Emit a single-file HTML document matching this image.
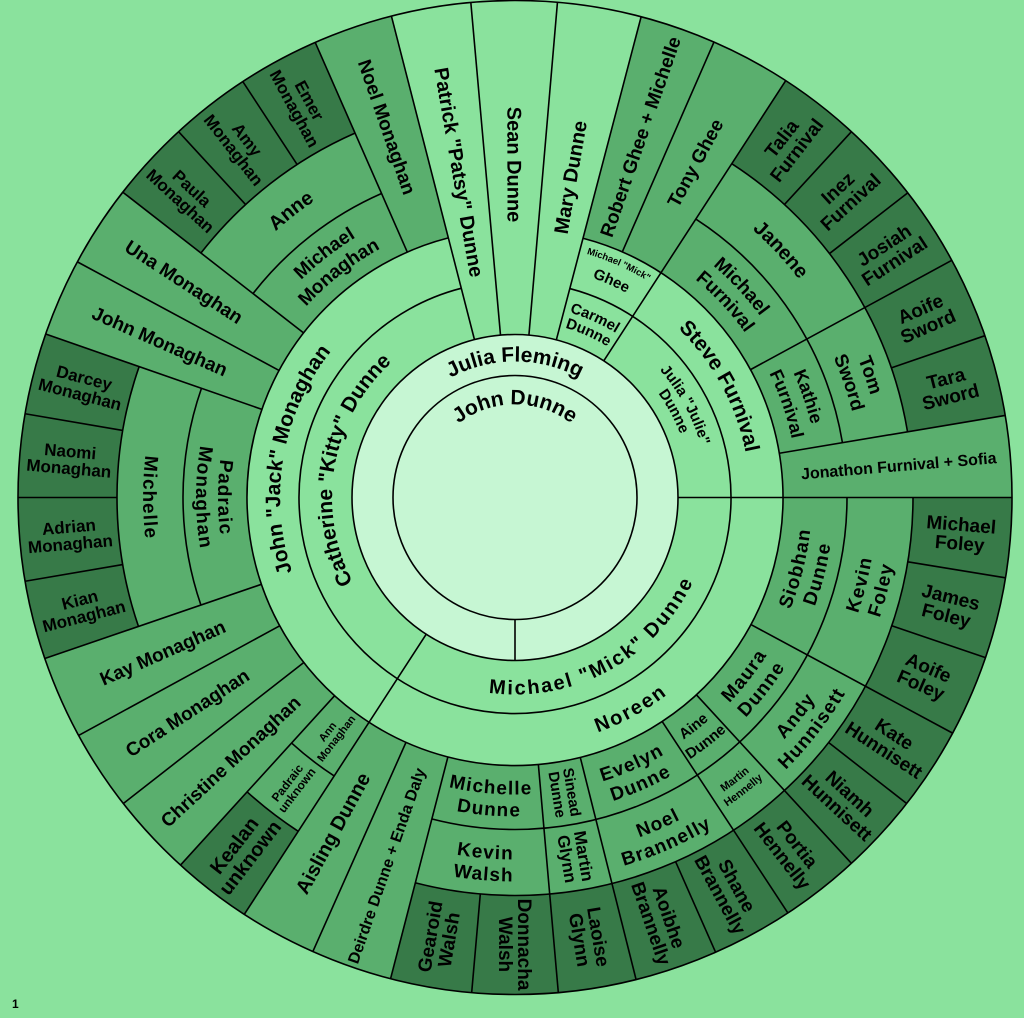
<!DOCTYPE html>
<html><head><meta charset="utf-8"><style>
html,body{margin:0;padding:0;background:#8ae29d;width:1024px;height:1018px;overflow:hidden;}
svg{display:block}
text{font-family:"Liberation Sans",Arial,sans-serif;font-weight:bold;fill:#000;}
.f circle{fill:none}
.o circle{fill:none;stroke:#000;stroke-width:1.6}
.o line{stroke:#000;stroke-width:1.6}
</style></head><body>
<svg width="1024" height="1018" viewBox="0 0 1024 1018" xmlns="http://www.w3.org/2000/svg" overflow="hidden">
<rect width="1024" height="1018" fill="#8ae29d"/>
<defs>
<path id="cw93" d="M-92.65,-8.11 A93,93 0 0 1 92.65,-8.11"/>
<path id="cw136" d="M-135.48,-11.85 A136,136 0 0 1 135.48,-11.85"/>
<path id="cw183" d="M-182.3,-15.95 A183,183 0 0 1 182.3,-15.95"/>
<path id="cw235" d="M-234.1,-20.48 A235,235 0 0 1 234.1,-20.48"/>
<path id="cw193" d="M-192.26,-16.82 A193,193 0 0 1 192.26,-16.82"/>
<path id="cw177" d="M-176.33,-15.43 A177,177 0 0 1 176.33,-15.43"/>
<path id="cw254" d="M-253.03,-22.14 A254,254 0 0 1 253.03,-22.14"/>
<path id="cw233" d="M-232.11,-20.31 A233,233 0 0 1 232.11,-20.31"/>
<path id="cw305" d="M-303.84,-26.58 A305,305 0 0 1 303.84,-26.58"/>
<path id="cw283" d="M-281.92,-24.67 A283,283 0 0 1 281.92,-24.67"/>
<path id="cw358" d="M-356.64,-31.2 A358,358 0 0 1 356.64,-31.2"/>
<path id="cw370" d="M-368.59,-32.25 A370,370 0 0 1 368.59,-32.25"/>
<path id="cw348" d="M-346.67,-30.33 A348,348 0 0 1 346.67,-30.33"/>
<path id="ccw197" d="M-196.25,17.17 A197,197 0 0 0 196.25,17.17"/>
<path id="ccw249" d="M-248.05,21.7 A249,249 0 0 0 248.05,21.7"/>
<path id="ccw372" d="M-370.58,32.42 A372,372 0 0 0 370.58,32.42"/>
<path id="ccw297" d="M-295.87,25.89 A297,297 0 0 0 295.87,25.89"/>
<path id="ccw319" d="M-317.78,27.8 A319,319 0 0 0 317.78,27.8"/>
<path id="ccw362" d="M-360.62,31.55 A362,362 0 0 0 360.62,31.55"/>
<path id="ccw384" d="M-382.54,33.47 A384,384 0 0 0 382.54,33.47"/>
<path id="ccw295" d="M-293.88,25.71 A295,295 0 0 0 293.88,25.71"/>
<path id="ccw315" d="M-313.8,27.46 A315,315 0 0 0 313.8,27.46"/>
<path id="ccw361" d="M-359.62,31.46 A361,361 0 0 0 359.62,31.46"/>
<path id="ccw375" d="M-373.57,32.69 A375,375 0 0 0 373.57,32.69"/>
</defs>
<g transform="translate(515,497.5)">
<g class="f">
<circle r="163" style="fill:#c6f6d3"/>
<circle r="382.5" stroke="#5aaf6e" stroke-width="229" pathLength="360" stroke-dasharray="330.9 400" transform="rotate(-75.3)"/>
<g stroke="#377a48" stroke-width="99">
<circle r="447.5" pathLength="360" stroke-dasharray="9.3 400" transform="rotate(123)"/>
<circle r="447.5" pathLength="360" stroke-dasharray="38.1 400" transform="rotate(161.1)"/>
<circle r="447.5" pathLength="360" stroke-dasharray="28.4 400" transform="rotate(217.9)"/>
<circle r="447.5" pathLength="360" stroke-dasharray="47.5 400" transform="rotate(-57)"/>
<circle r="447.5" pathLength="360" stroke-dasharray="104.5 400" transform="rotate(0)"/>
</g>
</g>
<g class="o">
<circle r="122"/><circle r="163"/><circle r="497"/>
<circle r="216" pathLength="360" stroke-dasharray="330.9 400" transform="rotate(-75.3)"/>
<circle r="268" pathLength="360" stroke-dasharray="330.9 400" transform="rotate(-75.3)"/>
<g>
<circle r="332" pathLength="360" stroke-dasharray="47.5 400" transform="rotate(-57)"/>
<circle r="332" pathLength="360" stroke-dasharray="104.5 400" transform="rotate(0)"/>
<circle r="332" pathLength="360" stroke-dasharray="9.3 400" transform="rotate(123)"/>
<circle r="332" pathLength="360" stroke-dasharray="38.1 400" transform="rotate(161.1)"/>
<circle r="332" pathLength="360" stroke-dasharray="28.4 400" transform="rotate(217.9)"/>
<circle r="398" pathLength="360" stroke-dasharray="47.5 400" transform="rotate(-57)"/>
<circle r="398" pathLength="360" stroke-dasharray="104.5 400" transform="rotate(0)"/>
<circle r="398" pathLength="360" stroke-dasharray="9.3 400" transform="rotate(123)"/>
<circle r="398" pathLength="360" stroke-dasharray="38.1 400" transform="rotate(161.1)"/>
<circle r="398" pathLength="360" stroke-dasharray="28.4 400" transform="rotate(217.9)"/>
</g>
<line x1="122" x2="163" transform="rotate(90)"/>
<line x1="163" x2="497" transform="rotate(123)"/>
<line x1="163" x2="497" transform="rotate(255.6)"/>
<line x1="163" x2="497" transform="rotate(264.9)"/>
<line x1="163" x2="497" transform="rotate(-85.1)"/>
<line x1="163" x2="497" transform="rotate(-75.3)"/>
<line x1="163" x2="497" transform="rotate(-57)"/>
<line x1="163" x2="497" transform="rotate(0)"/>
<line x1="268" x2="497" transform="rotate(132.3)"/>
<line x1="268" x2="497" transform="rotate(142)"/>
<line x1="268" x2="497" transform="rotate(151.4)"/>
<line x1="268" x2="497" transform="rotate(161.1)"/>
<line x1="398" x2="497" transform="rotate(170.3)"/>
<line x1="398" x2="497" transform="rotate(180)"/>
<line x1="398" x2="497" transform="rotate(189.7)"/>
<line x1="268" x2="497" transform="rotate(199.2)"/>
<line x1="268" x2="497" transform="rotate(208.3)"/>
<line x1="268" x2="497" transform="rotate(217.9)"/>
<line x1="398" x2="497" transform="rotate(227.4)"/>
<line x1="398" x2="497" transform="rotate(236.8)"/>
<line x1="268" x2="497" transform="rotate(246.3)"/>
<line x1="268" x2="497" transform="rotate(-66.4)"/>
<line x1="398" x2="497" transform="rotate(-47.4)"/>
<line x1="398" x2="497" transform="rotate(-37.8)"/>
<line x1="268" x2="497" transform="rotate(-28.5)"/>
<line x1="398" x2="497" transform="rotate(-19)"/>
<line x1="268" x2="497" transform="rotate(-9.5)"/>
<line x1="398" x2="497" transform="rotate(9.3)"/>
<line x1="398" x2="497" transform="rotate(18.8)"/>
<line x1="268" x2="497" transform="rotate(28.3)"/>
<line x1="398" x2="497" transform="rotate(38)"/>
<line x1="268" x2="497" transform="rotate(47.4)"/>
<line x1="268" x2="497" transform="rotate(56.7)"/>
<line x1="398" x2="497" transform="rotate(66.2)"/>
<line x1="268" x2="497" transform="rotate(75.9)"/>
<line x1="268" x2="497" transform="rotate(85)"/>
<line x1="398" x2="497" transform="rotate(95)"/>
<line x1="268" x2="497" transform="rotate(104.5)"/>
<line x1="268" x2="497" transform="rotate(114)"/>
</g>

<g text-anchor="middle" font-size="21">
<text><textPath href="#cw93" startOffset="50%">John Dunne</textPath></text>
<text><textPath href="#cw136" startOffset="50%">Julia Fleming</textPath></text>
<g transform="rotate(280)"><text><textPath href="#cw183" startOffset="50%">Catherine "Kitty" Dunne</textPath></text>
<text><textPath href="#cw235" startOffset="50%">John "Jack" Monaghan</textPath></text></g>
<g transform="rotate(61.5)"><text><textPath href="#cw235" startOffset="50%">Steve Furnival</textPath></text>
<text font-size="15"><textPath href="#cw193" startOffset="50%">Julia "Julie"</textPath></text>
<text font-size="15"><textPath href="#cw177" startOffset="50%">Dunne</textPath></text></g>
<g transform="rotate(24)"><text font-size="15"><textPath href="#cw193" startOffset="50%">Carmel</textPath></text>
<text font-size="15"><textPath href="#cw177" startOffset="50%">Dunne</textPath></text>
<text font-size="9.5"><textPath href="#cw254" startOffset="50%">Michael "Mick"</textPath></text>
<text font-size="15"><textPath href="#cw233" startOffset="50%">Ghee</textPath></text></g>
<g transform="rotate(322)" font-size="19"><text><textPath href="#cw305" startOffset="50%">Michael</textPath></text>
<text><textPath href="#cw283" startOffset="50%">Monaghan</textPath></text>
<text font-size="20"><textPath href="#cw358" startOffset="50%">Anne</textPath></text></g>
<g transform="rotate(47)" font-size="19"><text><textPath href="#cw305" startOffset="50%">Michael</textPath></text>
<text><textPath href="#cw283" startOffset="50%">Furnival</textPath></text>
<text font-size="20"><textPath href="#cw358" startOffset="50%">Janene</textPath></text></g>
<g transform="rotate(71)" font-size="18"><text><textPath href="#cw305" startOffset="50%">Kathie</textPath></text>
<text><textPath href="#cw283" startOffset="50%">Furnival</textPath></text>
<text font-size="19"><textPath href="#cw370" startOffset="50%">Tom</textPath></text>
<text font-size="19"><textPath href="#cw348" startOffset="50%">Sword</textPath></text></g>

<g letter-spacing="2" font-size="20">
<g transform="rotate(-28.7)"><text><textPath href="#ccw197" startOffset="50%">Michael "Mick" Dunne</textPath></text>
<text><textPath href="#ccw249" startOffset="50%">Noreen</textPath></text></g>
</g>
<g letter-spacing="1.2" font-size="19">
<g transform="rotate(90)"><text><textPath href="#ccw372" startOffset="50%">Michelle</textPath></text>
<text><textPath href="#ccw297" startOffset="50%">Padraic</textPath></text>
<text><textPath href="#ccw319" startOffset="50%">Monaghan</textPath></text></g>
<g transform="rotate(-75.85)"><text><textPath href="#ccw297" startOffset="50%">Siobhan</textPath></text>
<text><textPath href="#ccw319" startOffset="50%">Dunne</textPath></text>
<text><textPath href="#ccw362" startOffset="50%">Kevin</textPath></text>
<text><textPath href="#ccw384" startOffset="50%">Foley</textPath></text></g>
<g transform="rotate(-52.15)"><text><textPath href="#ccw297" startOffset="50%">Maura</textPath></text>
<text><textPath href="#ccw319" startOffset="50%">Dunne</textPath></text>
<text><textPath href="#ccw362" startOffset="50%">Andy</textPath></text>
<text><textPath href="#ccw384" startOffset="50%">Hunnisett</textPath></text></g>
<g transform="rotate(-37.95)" letter-spacing="0"><text font-size="15"><textPath href="#ccw295" startOffset="50%">Aine</textPath></text>
<text font-size="15"><textPath href="#ccw315" startOffset="50%">Dunne</textPath></text>
<text font-size="11" font-weight="normal"><textPath href="#ccw361" startOffset="50%">Martin</textPath></text>
<text font-size="11" font-weight="normal"><textPath href="#ccw375" startOffset="50%">Hennelly</textPath></text></g>
<g transform="rotate(-23.7)"><text><textPath href="#ccw297" startOffset="50%">Evelyn</textPath></text>
<text><textPath href="#ccw319" startOffset="50%">Dunne</textPath></text>
<text><textPath href="#ccw362" startOffset="50%">Noel</textPath></text>
<text><textPath href="#ccw384" startOffset="50%">Brannelly</textPath></text></g>
<g transform="rotate(4.75)"><text><textPath href="#ccw297" startOffset="50%">Michelle</textPath></text>
<text><textPath href="#ccw319" startOffset="50%">Dunne</textPath></text>
<text><textPath href="#ccw362" startOffset="50%">Kevin</textPath></text>
<text><textPath href="#ccw384" startOffset="50%">Walsh</textPath></text></g>
</g>
</g>

<g text-anchor="middle" font-size="20">
<text transform="rotate(260.25) translate(330,0) rotate(180)" dy="0.35em">Patrick "Patsy" Dunne</text>
<text transform="rotate(269.9) translate(333,0) rotate(180)" dy="0.35em">Sean Dunne</text>
<text transform="rotate(-80.2) translate(325,0)" dy="0.35em">Mary Dunne</text>
<g font-size="19">
<text transform="rotate(137.15) translate(388,0) rotate(180)" dy="0.35em">Christine Monaghan</text>
<text transform="rotate(146.7) translate(392,0) rotate(180)" dy="0.35em">Cora Monaghan</text>
<text transform="rotate(156.25) translate(385,0) rotate(180)" dy="0.35em">Kay Monaghan</text>
<text transform="rotate(203.75) translate(388,0) rotate(180)" dy="0.35em">John Monaghan</text>
<text transform="rotate(213.1) translate(395,0) rotate(180)" dy="0.35em">Una Monaghan</text>
<text transform="rotate(250.95) translate(392,0) rotate(180)" dy="0.35em">Noel Monaghan</text>
<text transform="rotate(-70.85) translate(382,0)" dy="0.35em">Robert Ghee + Michelle</text>
<text transform="rotate(-61.7) translate(380,0)" dy="0.35em">Tony Ghee</text>
<text transform="rotate(118.5) translate(382,0) rotate(180)" dy="0.35em" font-size="20">Aisling Dunne</text>
</g>
<text transform="rotate(-4.75) translate(385,0)" dy="0.35em" font-size="16">Jonathon Furnival + Sofia</text>
<text transform="rotate(109.25) translate(390,0) rotate(180)" dy="0.35em" font-size="16">Deirdre Dunne + Enda Daly</text>

<g font-size="17">
<text transform="rotate(165.7) translate(447,0) rotate(180)"><tspan x="0" dy="-0.15em">Kian</tspan><tspan x="0" dy="1em">Monaghan</tspan></text>
<text transform="rotate(175.15) translate(447,0) rotate(180)"><tspan x="0" dy="-0.15em">Adrian</tspan><tspan x="0" dy="1em">Monaghan</tspan></text>
<text transform="rotate(184.85) translate(447,0) rotate(180)"><tspan x="0" dy="-0.15em">Naomi</tspan><tspan x="0" dy="1em">Monaghan</tspan></text>
<text transform="rotate(194.45) translate(447,0) rotate(180)"><tspan x="0" dy="-0.15em">Darcey</tspan><tspan x="0" dy="1em">Monaghan</tspan></text>
<text transform="rotate(222.65) translate(447,0) rotate(180)"><tspan x="0" dy="-0.15em">Paula</tspan><tspan x="0" dy="1em">Monaghan</tspan></text>
<text transform="rotate(232.1) translate(447,0) rotate(180)"><tspan x="0" dy="-0.15em">Amy</tspan><tspan x="0" dy="1em">Monaghan</tspan></text>
<text transform="rotate(241.55) translate(447,0) rotate(180)"><tspan x="0" dy="-0.15em">Emer</tspan><tspan x="0" dy="1em">Monaghan</tspan></text>
</g>
<g font-size="19">
<text transform="rotate(127.65) translate(447,0) rotate(180)" font-size="20"><tspan x="0" dy="-0.15em">Kealan</tspan><tspan x="0" dy="1em">unknown</tspan></text>
<text transform="rotate(-52.2) translate(447,0)"><tspan x="0" dy="-0.15em">Talia</tspan><tspan x="0" dy="1em">Furnival</tspan></text>
<text transform="rotate(-42.6) translate(447,0)"><tspan x="0" dy="-0.15em">Inez</tspan><tspan x="0" dy="1em">Furnival</tspan></text>
<text transform="rotate(-33.15) translate(447,0)"><tspan x="0" dy="-0.15em">Josiah</tspan><tspan x="0" dy="1em">Furnival</tspan></text>
<text transform="rotate(-23.75) translate(447,0)"><tspan x="0" dy="-0.15em">Aoife</tspan><tspan x="0" dy="1em">Sword</tspan></text>
<text transform="rotate(-14.25) translate(447,0)"><tspan x="0" dy="-0.15em">Tara</tspan><tspan x="0" dy="1em">Sword</tspan></text>
<text transform="rotate(4.65) translate(447,0)"><tspan x="0" dy="-0.15em">Michael</tspan><tspan x="0" dy="1em">Foley</tspan></text>
<text transform="rotate(14.05) translate(447,0)"><tspan x="0" dy="-0.15em">James</tspan><tspan x="0" dy="1em">Foley</tspan></text>
<text transform="rotate(23.55) translate(447,0)"><tspan x="0" dy="-0.15em">Aoife</tspan><tspan x="0" dy="1em">Foley</tspan></text>
<text transform="rotate(33.15) translate(447,0)"><tspan x="0" dy="-0.15em">Kate</tspan><tspan x="0" dy="1em">Hunnisett</tspan></text>
<text transform="rotate(42.7) translate(447,0)"><tspan x="0" dy="-0.15em">Niamh</tspan><tspan x="0" dy="1em">Hunnisett</tspan></text>
<text transform="rotate(52.05) translate(447,0)"><tspan x="0" dy="-0.15em">Portia</tspan><tspan x="0" dy="1em">Hennelly</tspan></text>
<text transform="rotate(61.45) translate(447,0)"><tspan x="0" dy="-0.15em">Shane</tspan><tspan x="0" dy="1em">Brannelly</tspan></text>
<text transform="rotate(71.05) translate(447,0)"><tspan x="0" dy="-0.15em">Aoibhe</tspan><tspan x="0" dy="1em">Brannelly</tspan></text>
<text transform="rotate(80.45) translate(447,0)"><tspan x="0" dy="-0.15em">Laoise</tspan><tspan x="0" dy="1em">Glynn</tspan></text>
<text transform="rotate(90) translate(447,0)"><tspan x="0" dy="-0.15em">Donnacha</tspan><tspan x="0" dy="1em">Walsh</tspan></text>
<text transform="rotate(99.75) translate(447,0) rotate(180)"><tspan x="0" dy="-0.15em">Gearoid</tspan><tspan x="0" dy="1em">Walsh</tspan></text>
</g>
<text transform="rotate(80.45) translate(300,0)" font-size="15"><tspan x="0" dy="-0.15em">Sinead</tspan><tspan x="0" dy="1em">Dunne</tspan></text>
<text transform="rotate(80.45) translate(365,0)" font-size="17"><tspan x="0" dy="-0.15em">Martin</tspan><tspan x="0" dy="1em">Glynn</tspan></text>
<text transform="rotate(127.65) translate(365,0) rotate(180)" font-size="12" font-weight="normal"><tspan x="0" dy="-0.15em">Padraic</tspan><tspan x="0" dy="1em">unknown</tspan></text>
<text transform="rotate(127.65) translate(300,0) rotate(180)" font-size="11" font-weight="normal"><tspan x="0" dy="-0.15em">Ann</tspan><tspan x="0" dy="1em">Monaghan</tspan></text>
</g>
</g>
<text x="12" y="1008" font-size="12" font-weight="normal">1</text>
</svg>
</body></html>
